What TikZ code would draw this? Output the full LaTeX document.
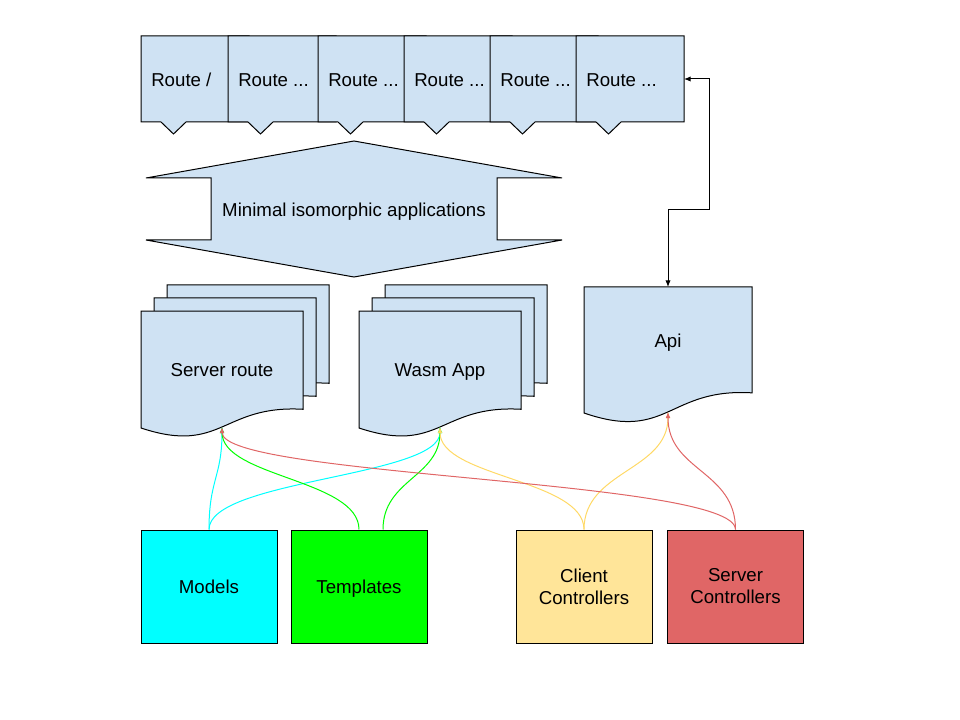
\documentclass[tikz,border=0pt]{standalone}
\usepackage{fontspec}
\setmainfont{Liberation Sans}
\usetikzlibrary{arrows.meta}

\definecolor{docblue}{HTML}{CFE2F3}
\definecolor{modelfill}{HTML}{00FFFF}
\definecolor{templfill}{HTML}{00FF00}
\definecolor{clientfill}{HTML}{FFE599}
\definecolor{serverfill}{HTML}{E06666}
\definecolor{clientline}{HTML}{FFD966}

\tikzset{
  outline/.style={draw=black, line width=0.75pt, fill=docblue},
  oneline/.style={text height=10pt, text depth=0pt},
  txt/.style={font=\fontsize{14}{16.5}\selectfont, inner sep=0pt, oneline},
  srcbox/.style={draw=black, line width=0.75pt, minimum width=102pt, minimum height=84.75pt, align=center, font=\fontsize{14}{16.5}\selectfont},
  link/.style={line width=0.75pt, -{Latex[length=4.5pt,width=3.5pt]}},
}

% document outline: x, y, width, height at the left edge
\newcommand{\docshape}[4]{%
  \draw[outline] (#1,#2) -- (#1+#3,#2) -- (#1+#3,#2+0.84*#4) .. controls (#1+0.5*#3,#2+0.8*#4) and (#1+0.5*#3,#2+1.23*#4) .. (#1,#2+#4) -- cycle;}

\begin{document}
\begin{tikzpicture}[x=0.75pt,y=0.75pt,yscale=-1,xscale=1]
\useasboundingbox (0,0) rectangle (960,720);

%Route tabs
\foreach \x/\t [count=\i] in {141/{Route /},228/{Route ...},318/{Route ...},404/{Route ...},490/{Route ...},576/{Route ...}}{
  \draw[outline] (\x,36) -- (\x+108,36) -- (\x+108,122) -- (\x+45,122) -- (\x+32.5,134) -- (\x+20,122) -- (\x,122) -- cycle;
  \node[txt, anchor=west] (route\i) at (\x+10,80) {\t};
  \coordinate (routeend\i) at (\x+108,79);
}

%Up-down arrow
\draw[outline] (354,141) -- (562,178) -- (497,178) -- (497,240) -- (562,240) -- (354,277) -- (146,240) -- (211,240) -- (211,178) -- (146,178) -- cycle;
% Text Node
\node[txt] (apps) at (354,210) {Minimal isomorphic applications};

%Document stacks
\foreach \d in {26,13,0}{\docshape{141+\d}{311-\d}{162}{117}}
\node[txt] (srv) at (222,370) {Server route};
\coordinate (srvin) at (222,427);

\foreach \d in {26,13,0}{\docshape{359+\d}{311-\d}{162}{117}}
\node[txt] (wasm) at (440,370) {Wasm App};
\coordinate (wasmin) at (440,427);

\docshape{584}{287}{168}{126}
\node[txt] (api) at (668,341) {Api};
\coordinate (apitop) at (668,287);
\coordinate (apiin) at (668,412);

%Route to Api
\coordinate (bend) at (709,210);
\draw[line width=0.75pt, {Latex[length=5pt,width=4pt]}-{Latex[length=5pt,width=4pt]}] (routeend6) -| (bend) -| (apitop);

%Source boxes
\node[srcbox, oneline, fill=modelfill] (models) at (209,586.5) {Models};
\node[srcbox, oneline, fill=templfill] (templates) at (359,586.5) {Templates};
\node[srcbox, fill=clientfill] (client) at (584,586.5) {Client\\Controllers};
\node[srcbox, fill=serverfill] (server) at (735.5,586.5) {Server\\Controllers};

%Curved links
\draw[link, modelfill] (models.north) .. controls +(0,-50) and +(0,50) .. (srvin);
\draw[link, modelfill] (models.north) .. controls +(0,-50) and +(0,50) .. (wasmin);
\draw[link, templfill] (templates.north) .. controls +(0,-50) and +(0,50) .. (srvin);
\draw[link, templfill] ([xshift=18pt]templates.north) .. controls +(0,-50) and +(0,50) .. (wasmin);
\draw[link, clientline] (client.north) .. controls +(0,-50) and +(0,50) .. (wasmin);
\draw[link, clientline] (client.north) .. controls +(0,-59) and +(0,59) .. (apiin);
\draw[link, serverfill] (server.north) .. controls +(0,-50) and +(0,50) .. (srvin);
\draw[link, serverfill] (server.north) .. controls +(0,-59) and +(0,59) .. (apiin);

\end{tikzpicture}
\end{document}
